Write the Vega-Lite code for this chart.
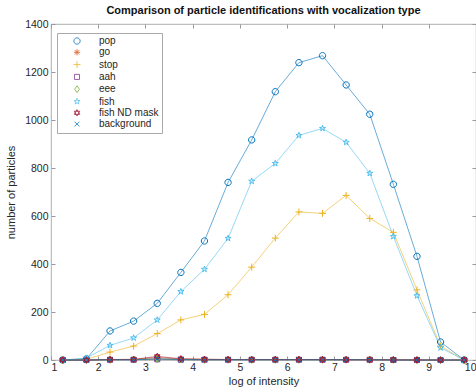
{
  "$schema": "https://vega.github.io/schema/vega-lite/v6.json",
  "width": 425,
  "height": 336,
  "autosize": "none",
  "padding": {"left": 51, "top": 24, "right": 0, "bottom": 30},
  "background": "white",
  "config": {
    "font": "Liberation Sans",
    "view": {"stroke": "#999", "strokeWidth": 0.8},
    "axis": {"labelFont": "Liberation Sans", "titleFont": "Liberation Sans", "labelColor": "#262626", "titleColor": "#262626", "domainColor": "#999", "tickColor": "#999", "grid": false, "labelFontSize": 10.5, "titleFontSize": 11, "titleFontWeight": "normal"},
    "legend": {"title": null, "orient": "none", "legendX": 6, "legendY": 9, "strokeColor": "#aaa", "fillColor": "white", "padding": 3, "labelFontSize": 10, "labelFont": "Liberation Sans", "labelColor": "#262626", "symbolSize": 40, "symbolStrokeWidth": 0.9, "rowPadding": 1.3}
  },
  "title": {"text": "Comparison of particle identifications with vocalization type", "fontSize": 11, "fontWeight": "bold", "color": "#111", "font": "Liberation Sans", "anchor": "middle", "offset": 3},
  "data": {"values": [
    {"s":"pop","x":1.25,"n":0},{"s":"pop","x":1.75,"n":5},{"s":"pop","x":2.25,"n":121},{"s":"pop","x":2.75,"n":162},{"s":"pop","x":3.25,"n":236},{"s":"pop","x":3.75,"n":365},{"s":"pop","x":4.25,"n":496},{"s":"pop","x":4.75,"n":740},{"s":"pop","x":5.25,"n":917},{"s":"pop","x":5.75,"n":1118},{"s":"pop","x":6.25,"n":1239},{"s":"pop","x":6.75,"n":1268},{"s":"pop","x":7.25,"n":1146},{"s":"pop","x":7.75,"n":1024},{"s":"pop","x":8.25,"n":732},{"s":"pop","x":8.75,"n":432},{"s":"pop","x":9.25,"n":75},{"s":"pop","x":9.75,"n":0},
    {"s":"go","x":1.25,"n":0},{"s":"go","x":1.75,"n":0},{"s":"go","x":2.25,"n":2},{"s":"go","x":2.75,"n":3},{"s":"go","x":3.25,"n":10},{"s":"go","x":3.75,"n":4},{"s":"go","x":4.25,"n":3},{"s":"go","x":4.75,"n":2},{"s":"go","x":5.25,"n":2},{"s":"go","x":5.75,"n":2},{"s":"go","x":6.25,"n":2},{"s":"go","x":6.75,"n":2},{"s":"go","x":7.25,"n":2},{"s":"go","x":7.75,"n":1},{"s":"go","x":8.25,"n":1},{"s":"go","x":8.75,"n":1},{"s":"go","x":9.25,"n":0},{"s":"go","x":9.75,"n":0},
    {"s":"stop","x":1.25,"n":0},{"s":"stop","x":1.75,"n":3},{"s":"stop","x":2.25,"n":33},{"s":"stop","x":2.75,"n":58},{"s":"stop","x":3.25,"n":110},{"s":"stop","x":3.75,"n":167},{"s":"stop","x":4.25,"n":190},{"s":"stop","x":4.75,"n":272},{"s":"stop","x":5.25,"n":387},{"s":"stop","x":5.75,"n":508},{"s":"stop","x":6.25,"n":617},{"s":"stop","x":6.75,"n":611},{"s":"stop","x":7.25,"n":686},{"s":"stop","x":7.75,"n":590},{"s":"stop","x":8.25,"n":532},{"s":"stop","x":8.75,"n":292},{"s":"stop","x":9.25,"n":58},{"s":"stop","x":9.75,"n":0},
    {"s":"aah","x":1.25,"n":0},{"s":"aah","x":1.75,"n":0},{"s":"aah","x":2.25,"n":1},{"s":"aah","x":2.75,"n":1},{"s":"aah","x":3.25,"n":3},{"s":"aah","x":3.75,"n":1},{"s":"aah","x":4.25,"n":1},{"s":"aah","x":4.75,"n":1},{"s":"aah","x":5.25,"n":1},{"s":"aah","x":5.75,"n":1},{"s":"aah","x":6.25,"n":1},{"s":"aah","x":6.75,"n":1},{"s":"aah","x":7.25,"n":1},{"s":"aah","x":7.75,"n":1},{"s":"aah","x":8.25,"n":0},{"s":"aah","x":8.75,"n":0},{"s":"aah","x":9.25,"n":0},{"s":"aah","x":9.75,"n":0},
    {"s":"eee","x":1.25,"n":0},{"s":"eee","x":1.75,"n":0},{"s":"eee","x":2.25,"n":1},{"s":"eee","x":2.75,"n":2},{"s":"eee","x":3.25,"n":4},{"s":"eee","x":3.75,"n":2},{"s":"eee","x":4.25,"n":1},{"s":"eee","x":4.75,"n":1},{"s":"eee","x":5.25,"n":1},{"s":"eee","x":5.75,"n":1},{"s":"eee","x":6.25,"n":1},{"s":"eee","x":6.75,"n":1},{"s":"eee","x":7.25,"n":1},{"s":"eee","x":7.75,"n":1},{"s":"eee","x":8.25,"n":1},{"s":"eee","x":8.75,"n":0},{"s":"eee","x":9.25,"n":0},{"s":"eee","x":9.75,"n":0},
    {"s":"fish","x":1.25,"n":0},{"s":"fish","x":1.75,"n":8},{"s":"fish","x":2.25,"n":61},{"s":"fish","x":2.75,"n":92},{"s":"fish","x":3.25,"n":167},{"s":"fish","x":3.75,"n":285},{"s":"fish","x":4.25,"n":378},{"s":"fish","x":4.75,"n":507},{"s":"fish","x":5.25,"n":745},{"s":"fish","x":5.75,"n":819},{"s":"fish","x":6.25,"n":936},{"s":"fish","x":6.75,"n":965},{"s":"fish","x":7.25,"n":907},{"s":"fish","x":7.75,"n":778},{"s":"fish","x":8.25,"n":515},{"s":"fish","x":8.75,"n":268},{"s":"fish","x":9.25,"n":51},{"s":"fish","x":9.75,"n":0},
    {"s":"fish ND mask","x":1.25,"n":0},{"s":"fish ND mask","x":1.75,"n":0},{"s":"fish ND mask","x":2.25,"n":2},{"s":"fish ND mask","x":2.75,"n":2},{"s":"fish ND mask","x":3.25,"n":15},{"s":"fish ND mask","x":3.75,"n":5},{"s":"fish ND mask","x":4.25,"n":3},{"s":"fish ND mask","x":4.75,"n":2},{"s":"fish ND mask","x":5.25,"n":2},{"s":"fish ND mask","x":5.75,"n":2},{"s":"fish ND mask","x":6.25,"n":2},{"s":"fish ND mask","x":6.75,"n":2},{"s":"fish ND mask","x":7.25,"n":1},{"s":"fish ND mask","x":7.75,"n":1},{"s":"fish ND mask","x":8.25,"n":1},{"s":"fish ND mask","x":8.75,"n":0},{"s":"fish ND mask","x":9.25,"n":0},{"s":"fish ND mask","x":9.75,"n":0},
    {"s":"background","x":1.25,"n":0},{"s":"background","x":1.75,"n":0},{"s":"background","x":2.25,"n":1},{"s":"background","x":2.75,"n":1},{"s":"background","x":3.25,"n":5},{"s":"background","x":3.75,"n":2},{"s":"background","x":4.25,"n":1},{"s":"background","x":4.75,"n":1},{"s":"background","x":5.25,"n":1},{"s":"background","x":5.75,"n":1},{"s":"background","x":6.25,"n":1},{"s":"background","x":6.75,"n":1},{"s":"background","x":7.25,"n":1},{"s":"background","x":7.75,"n":1},{"s":"background","x":8.25,"n":0},{"s":"background","x":8.75,"n":0},{"s":"background","x":9.25,"n":0},{"s":"background","x":9.75,"n":0}
  ]},
  "layer": [
    {
      "mark": {"type": "point", "opacity": 0},
      "encoding": {
        "x": {"field": "x", "type": "quantitative", "scale": {"domain": [1, 10], "nice": false, "zero": false}, "axis": {"orient": "top", "labels": false, "title": null, "values": [1,2,3,4,5,6,7,8,9,10], "tickSize": -4, "domain": false}},
        "y": {"field": "n", "type": "quantitative", "scale": {"domain": [0, 1400], "nice": false}, "axis": {"orient": "right", "labels": false, "title": null, "values": [0,200,400,600,800,1000,1200,1400], "tickSize": -4, "domain": false}}
      }
    },
    {
      "mark": {"type": "line", "strokeWidth": 0.7, "opacity": 0.85},
      "encoding": {
        "x": {"field": "x", "type": "quantitative", "scale": {"domain": [1, 10], "nice": false, "zero": false}, "axis": {"orient": "bottom", "title": "log of intensity", "values": [1,2,3,4,5,6,7,8,9,10], "tickSize": -4, "labelPadding": 6, "titlePadding": 3, "domain": false}},
        "y": {"field": "n", "type": "quantitative", "scale": {"domain": [0, 1400], "nice": false}, "axis": {"orient": "left", "title": "number of particles", "format": "d", "values": [0,200,400,600,800,1000,1200,1400], "tickSize": -4, "labelPadding": 7, "titlePadding": 8, "domain": false}},
        "color": {"field": "s", "type": "nominal", "sort": ["pop","go","stop","aah","eee","fish","fish ND mask","background"], "scale": {"domain": ["pop","go","stop","aah","eee","fish","fish ND mask","background"], "range": ["#0072BD","#D95319","#EDB120","#7E2F8E","#77AC30","#4DBEEE","#A2142F","#0072BD"]},
          "legend": {"symbolOffset": 12, "labelOffset": 17, "symbolStrokeWidth": 0.9, "encode": {"symbols": {"shape": {"value": {"expr": "scale('shape', datum.value) + 'M-4.7,0L4.7,0'"}}}}}}
      }
    },
    {
      "mark": {"type": "point", "filled": false, "size": 40, "strokeWidth": 1, "opacity": 1},
      "encoding": {
        "x": {"field": "x", "type": "quantitative", "axis": null},
        "y": {"field": "n", "type": "quantitative", "axis": null},
        "stroke": {"field": "s", "type": "nominal", "sort": ["pop","go","stop","aah","eee","fish","fish ND mask","background"], "scale": {"domain": ["pop","go","stop","aah","eee","fish","fish ND mask","background"], "range": ["#0072BD","#D95319","#EDB120","#7E2F8E","#77AC30","#4DBEEE","#A2142F","#0072BD"]}, "legend": null},
        "shape": {"field": "s", "type": "nominal", "sort": ["pop","go","stop","aah","eee","fish","fish ND mask","background"], "scale": {"domain": ["pop","go","stop","aah","eee","fish","fish ND mask","background"], "range": [
          "M1,0A1,1,0,1,1,-1,0A1,1,0,1,1,1,0",
          "M-1,0L1,0M0,-1L0,1M-0.7,-0.7L0.7,0.7M-0.7,0.7L0.7,-0.7",
          "M-1.1,0L1.1,0M0,-1.1L0,1.1",
          "M-0.8,-0.8L0.8,-0.8L0.8,0.8L-0.8,0.8Z",
          "M0,-1.1L0.75,0L0,1.1L-0.75,0Z",
          "M0,-1L0.22,-0.31L0.95,-0.31L0.36,0.12L0.59,0.81L0,0.38L-0.59,0.81L-0.36,0.12L-0.95,-0.31L-0.22,-0.31Z",
          "M0,-1L0.87,0.5L-0.87,0.5ZM0,1L0.87,-0.5L-0.87,-0.5Z",
          "M-0.75,-0.75L0.75,0.75M-0.75,0.75L0.75,-0.75"
        ]}, "legend": null}
      }
    }
  ],
  "resolve": {"axis": {"x": "independent", "y": "independent"}}
}
